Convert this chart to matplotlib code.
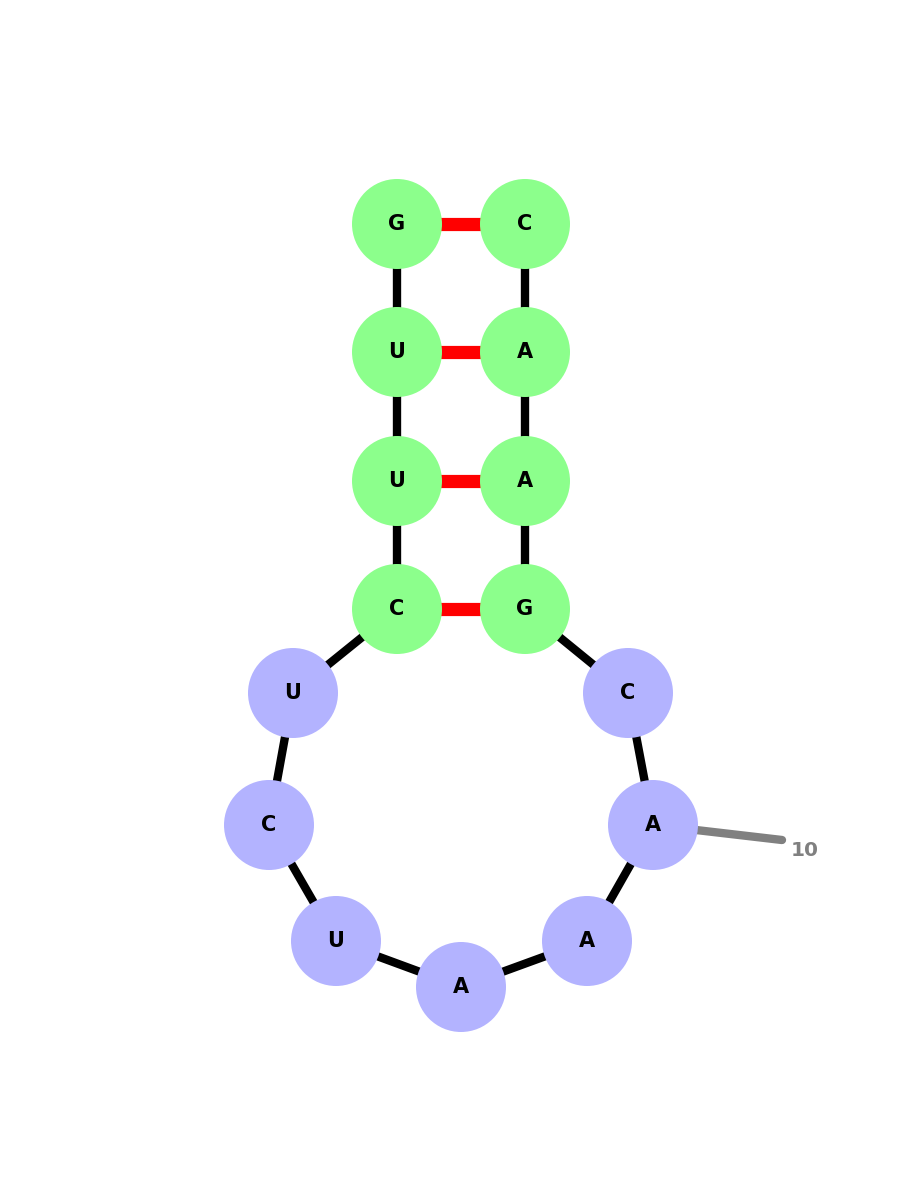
import matplotlib
matplotlib.use("Agg")
import matplotlib.pyplot as plt
from matplotlib.patches import Circle

# RNA: sequence and dot-bracket structure
sequence = list("GUUCUCUAAACGAAC")
structure = "((((.......))))"
# layout coordinates of each nucleotide (pixel space of the reference)
xs = [397, 397, 397, 397, 293, 269, 336, 461, 587, 653, 628, 525, 525, 525, 525]
ys = [224, 352, 481, 609, 693, 825, 941, 987, 941, 825, 693, 609, 481, 352, 224]
# numbered label
label_index = 10
label_end = (782, 840)
label_pos = (805, 850)

stem_color = "#8cff8c"
loop_color = "#b3b3ff"

fig = plt.figure(figsize=(9, 12), dpi=100)
ax = fig.add_axes([0, 0, 1, 1])
ax.set_xlim(0, 900)
ax.set_ylim(1200, 0)
ax.set_aspect("equal")
ax.axis("off")

# backbone
for i in range(len(xs) - 1):
    ax.plot([xs[i], xs[i + 1]], [ys[i], ys[i + 1]], color="black", lw=6,
            solid_capstyle="butt", zorder=1)

# base pairs
stack = []
pairs = []
for i, c in enumerate(structure):
    if c == "(":
        stack.append(i)
    elif c == ")":
        j = stack.pop()
        pairs.append((j, i))
for a, b in pairs:
    ax.plot([xs[a], xs[b]], [ys[a], ys[b]], color="red", lw=9.5,
            solid_capstyle="butt", zorder=1)

# number label line
k = label_index - 1
ax.plot([xs[k], label_end[0]], [ys[k], label_end[1]], color="gray", lw=6,
        solid_capstyle="round", zorder=1)
ax.text(label_pos[0], label_pos[1], str(label_index), color="gray",
        fontsize=14.5, fontweight="bold", ha="center", va="center")

# nucleotides
for i, (x, y) in enumerate(zip(xs, ys)):
    col = stem_color if structure[i] != "." else loop_color
    ax.add_patch(Circle((x, y), 45, facecolor=col, edgecolor="none", zorder=2))
    ax.text(x, y, sequence[i], fontsize=15, fontweight="bold", color="black",
            ha="center", va="center", zorder=3)

fig.savefig("out.png", dpi=100)
